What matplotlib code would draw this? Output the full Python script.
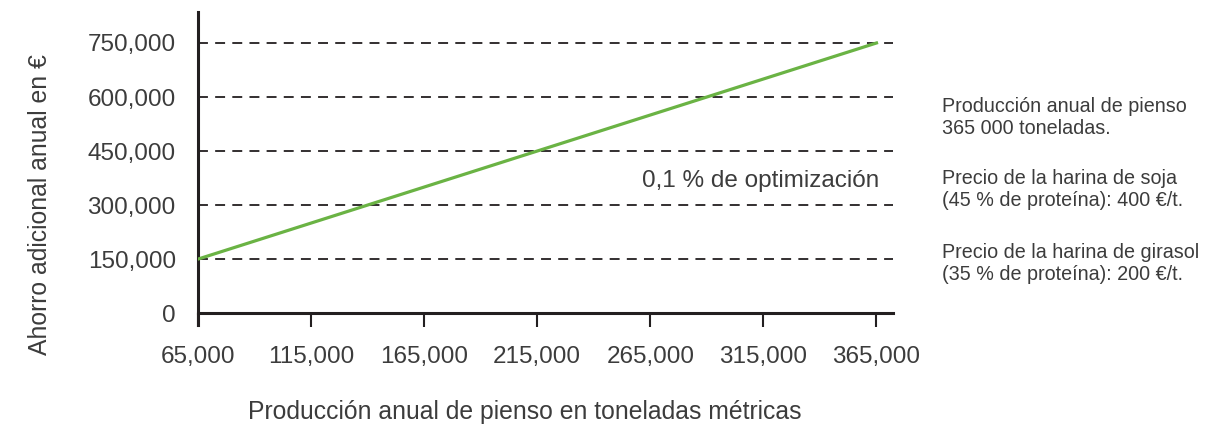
import matplotlib
matplotlib.use('Agg')
import matplotlib.pyplot as plt
from matplotlib.ticker import FuncFormatter

# data
produccion = [65000, 365000]
ahorro = [150000, 750000]
x_ticks = [65000, 115000, 165000, 215000, 265000, 315000, 365000]
y_ticks = [0, 150000, 300000, 450000, 600000, 750000]
notas = [
    "Producción anual de pienso\n365 000 toneladas.",
    "Precio de la harina de soja\n(45 % de proteína): 400 €/t.",
    "Precio de la harina de girasol\n(35 % de proteína): 200 €/t.",
]

plt.rcParams['font.family'] = ['Liberation Sans', 'DejaVu Sans']
texto = '#3c3c3c'
negro = '#231f20'

fig = plt.figure(figsize=(12.3, 4.28), dpi=100)
ax = fig.add_axes([198/1230, 1 - 313/428 - 12/428, (893-198)/1230, (325-12)/428])

for y in y_ticks[1:]:
    ax.axhline(y, color=negro, lw=1.3, linestyle=(0, (5.5, 4)), zorder=1)

ax.plot(produccion, ahorro, color='#6ab344', lw=2.3, zorder=3)

ax.set_xlim(65000, 372300)
ax.set_ylim(-33000, 836000)
ax.spines['top'].set_visible(False)
ax.spines['right'].set_visible(False)
ax.spines['bottom'].set_position(('data', 0))
for s in ['left', 'bottom']:
    ax.spines[s].set_linewidth(2.2)
    ax.spines[s].set_color(negro)

fmt = FuncFormatter(lambda v, p: f'{int(v):,}')
ax.set_xticks(x_ticks)
ax.set_yticks(y_ticks)
ax.xaxis.set_major_formatter(fmt)
ax.yaxis.set_major_formatter(fmt)
ax.tick_params(axis='x', length=10, width=1.5, color=negro, pad=14,
               labelsize=17.5, labelcolor=texto)
ax.tick_params(axis='y', length=0, pad=16, labelsize=17.5, labelcolor=texto)

ax.text(313700, 366000, '0,1 % de optimización', ha='center', va='center',
        fontsize=17.5, color=texto)

fig.text(525/1230, 1 - 412/428, 'Producción anual de pienso en toneladas métricas',
         ha='center', va='center', fontsize=17.8, color=texto)
fig.text(40/1230, 1 - 205/428, 'Ahorro adicional anual en €', rotation=90,
         ha='center', va='center', fontsize=17.8, color=texto)

for i, nota in enumerate(notas):
    fig.text(942/1230, 1 - (117 + 73 * i)/428, nota, ha='left', va='center',
             fontsize=14.2, color=texto, linespacing=1.2)

fig.savefig('out.png', dpi=100)
